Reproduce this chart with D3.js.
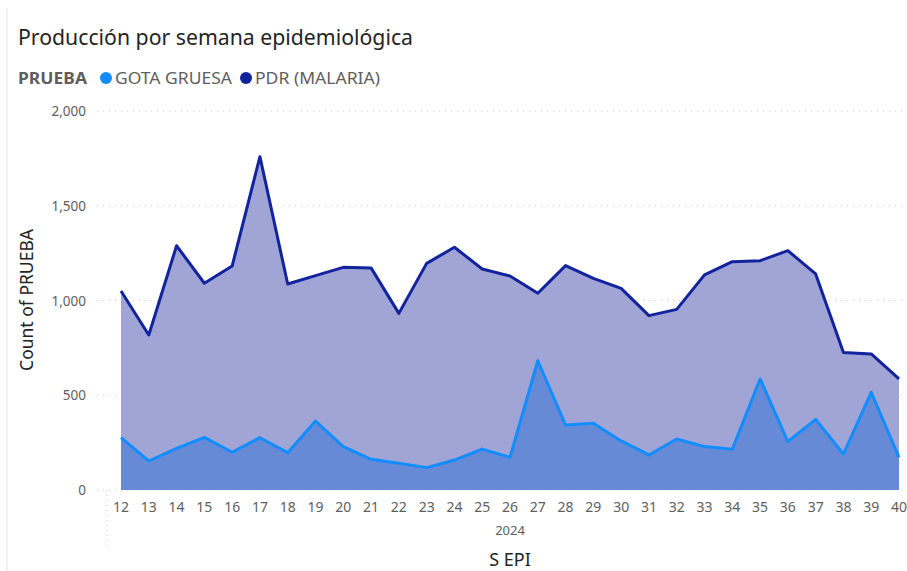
<!DOCTYPE html>
<html>
<head>
<meta charset="utf-8">
<script src="https://cdn.jsdelivr.net/npm/d3@7"></script>
<style>
  body { margin: 0; background: #fff; }
  svg { display: block; font-family: "Segoe UI", "Noto Sans", sans-serif; }
</style>
</head>
<body>
<div id="chart"></div>
<script>
// semanas epidemiologicas 2024
const weeks = [12, 13, 14, 15, 16, 17, 18, 19, 20, 21, 22, 23, 24, 25, 26, 27, 28, 29, 30, 31, 32, 33, 34, 35, 36, 37, 38, 39, 40];
const pdr = [1050, 818, 1289, 1091, 1182, 1759, 1087, 1131, 1175, 1172, 932, 1196, 1281, 1166, 1129, 1038, 1184, 1117, 1064, 920, 953, 1135, 1205, 1210, 1263, 1140, 725, 718, 586];
const gota = [276, 153, 220, 278, 199, 276, 197, 364, 229, 162, 141, 118, 158, 216, 172, 682, 343, 352, 259, 185, 269, 229, 215, 586, 255, 373, 190, 515, 172];
const yTicks = [0, 500, 1000, 1500, 2000];
const seriesNames = ["GOTA GRUESA", "PDR (MALARIA)"];

const width = 907, height = 571;

const svg = d3.select("#chart").append("svg")
    .attr("width", width)
    .attr("height", height);

// borde izquierdo del visual
svg.append("line")
    .attr("x1", 7).attr("x2", 7)
    .attr("y1", 8).attr("y2", height)
    .style("stroke", "#e1dfdd");

svg.append("text")
    .attr("x", 18).attr("y", 45)
    .attr("textLength", 395)
    .attr("lengthAdjust", "spacingAndGlyphs")
    .style("font-size", "21px")
    .style("fill", "#252423")
    .text("Producción por semana epidemiológica");

// leyenda
const legend = svg.append("g").attr("transform", "translate(0,84)");
legend.append("text")
    .attr("x", 18)
    .attr("textLength", 69)
    .attr("lengthAdjust", "spacingAndGlyphs")
    .style("font-size", "16px").style("font-weight", "bold").style("fill", "#605e5c")
    .text("PRUEBA");
const legendColors = ["#118dff", "#12239e"];
const legendX = [106, 246];
const legendLen = [117, 125];
seriesNames.forEach((name, i) => {
    legend.append("circle")
        .attr("cx", legendX[i]).attr("cy", -6).attr("r", 6)
        .style("fill", legendColors[i]);
    legend.append("text")
        .attr("x", legendX[i] + 9)
        .attr("textLength", legendLen[i])
        .attr("lengthAdjust", "spacingAndGlyphs")
        .style("font-size", "16px").style("fill", "#605e5c")
        .text(name);
});

const x = d3.scaleLinear()
    .domain([12, 40])
    .range([121, 899]);

const y = d3.scaleLinear()
    .domain([0, 2000])
    .range([490, 111]);

// grid
svg.append("g")
    .selectAll("line")
    .data(yTicks)
    .enter()
    .append("line")
    .attr("x1", 97).attr("x2", width)
    .attr("y1", d => y(d)).attr("y2", d => y(d))
    .style("stroke", "#c8c6c4")
    .style("stroke-dasharray", "1,5");

svg.append("g")
    .selectAll("text")
    .data(yTicks)
    .enter()
    .append("text")
    .attr("x", 86)
    .attr("y", d => y(d) + 5)
    .attr("text-anchor", "end")
    .style("font-size", "13.5px")
    .style("fill", "#605e5c")
    .text(d => d3.format(",")(d));

svg.append("text")
    .attr("transform", "translate(33,300) rotate(-90)")
    .attr("text-anchor", "middle")
    .style("font-size", "17.5px")
    .style("fill", "#252423")
    .text("Count of PRUEBA");

// areas (superpuestas, no apiladas)
const area = vals => d3.area()
    .x((d, i) => x(weeks[i]))
    .y0(y(0))
    .y1(d => y(d))(vals);

const line = vals => d3.line()
    .x((d, i) => x(weeks[i]))
    .y(d => y(d))(vals);

svg.append("path")
    .attr("d", area(pdr))
    .style("fill", "#a0a5d6");

svg.append("path")
    .attr("d", area(gota))
    .style("fill", "#668ad6");

svg.append("path")
    .attr("d", line(pdr))
    .style("fill", "none")
    .style("stroke", "#12239e")
    .style("stroke-width", 3)
    .style("stroke-linejoin", "round");

svg.append("path")
    .attr("d", line(gota))
    .style("fill", "none")
    .style("stroke", "#118dff")
    .style("stroke-width", 3)
    .style("stroke-linejoin", "round");

// eje x
svg.append("g")
    .selectAll("text")
    .data(weeks)
    .enter()
    .append("text")
    .attr("x", d => x(d))
    .attr("y", 512)
    .attr("text-anchor", "middle")
    .style("font-size", "14px")
    .style("fill", "#605e5c")
    .text(d => d);

svg.append("line")
    .attr("x1", 107).attr("x2", 107)
    .attr("y1", 490).attr("y2", 547)
    .style("stroke", "#c8c6c4")
    .style("stroke-dasharray", "1,4");

svg.append("text")
    .attr("x", 510).attr("y", 535)
    .attr("text-anchor", "middle")
    .style("font-size", "13px")
    .style("fill", "#605e5c")
    .text("2024");

svg.append("text")
    .attr("x", 510).attr("y", 566)
    .attr("text-anchor", "middle")
    .style("font-size", "18px")
    .style("fill", "#252423")
    .text("S EPI");
</script>
</body>
</html>
